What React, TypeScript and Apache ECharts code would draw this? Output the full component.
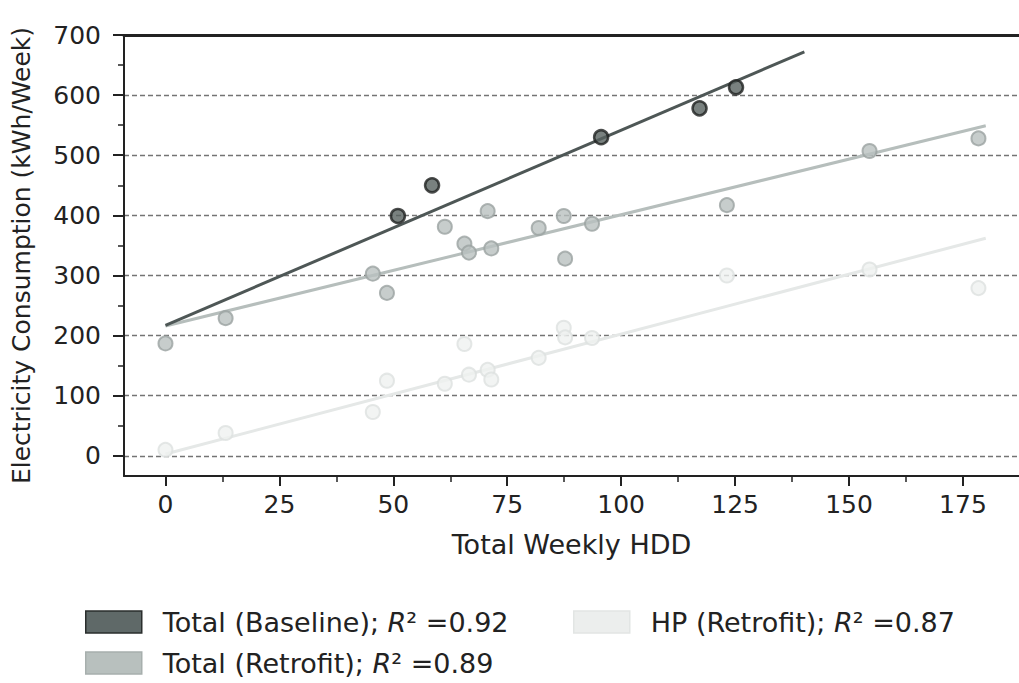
import React, { useEffect, useRef } from 'react';
import * as echarts from 'echarts';

const seriesNames = ['Total (Baseline)', 'Total (Retrofit)', 'HP (Retrofit)'];
const rSquared = ['0.92', '0.89', '0.87'];

const baselineHDD = [51.0, 58.5, 95.6, 117.2, 125.2];
const baselineKWh = [399, 450, 530, 578, 613];

const retrofitHDD = [0, 13.2, 45.5, 48.6, 61.3, 65.6, 66.6, 70.7, 71.5, 81.9, 87.4, 87.7, 93.6, 123.2, 154.5, 178.4];
const retrofitTotalKWh = [187, 229, 303, 271, 381, 353, 338, 407, 345, 379, 399, 328, 386, 417, 507, 528];
const retrofitHPKWh = [10, 38, 73, 125, 120, 186, 135, 143, 127, 163, 213, 197, 196, 300, 310, 279];

const baselineFitHDD = [0, 140.2];
const baselineFitKWh = [217, 672];
const retrofitFitHDD = [0, 180];
const retrofitFitKWh = [216, 549];
const hpFitHDD = [0, 180];
const hpFitKWh = [3, 362];

const xTicks = [0, 25, 50, 75, 100, 125, 150, 175];
const xMinorTicks = [12.5, 37.5, 62.5, 87.5, 112.5, 137.5, 162.5];
const yTicks = [0, 100, 200, 300, 400, 500, 600, 700];
const yMinorTicks = [50, 150, 250, 350, 450, 550, 650];

const X_MIN = -9.1;
const X_MAX = 187.3;
const Y_MIN = -33.5;
const Y_MAX = 700;

const FONT = 'DejaVu Sans';
const TEXT = '#222';
const FS = 25;
const LEGEND_FS = 27;

const zip = (xs: number[], ys: number[]) => xs.map((x, i) => [x, ys[i]]);

const markerStyles = [
  { color: '#58625f', borderColor: '#1f2221', borderWidth: 2.5 },
  { color: '#b9c1bf', borderColor: '#9ba3a1', borderWidth: 2 },
  { color: '#eff1f0', borderColor: '#dde1e0', borderWidth: 2 },
];
const lineColors = ['#4e5756', '#b6bebc', '#e5e8e7'];
const swatchStyles = [
  { color: '#5f6968', borderColor: '#2a2e2d', borderWidth: 1.5 },
  { color: '#b8c0be', borderColor: '#a7afad', borderWidth: 1.5 },
  { color: '#eceeed', borderColor: '#e2e5e4', borderWidth: 1.5 },
];

export default function App() {
  const ref = useRef<HTMLDivElement>(null);
  useEffect(() => {
    if (!ref.current) return;
    const chart = echarts.init(ref.current, undefined, { renderer: 'svg' });
    const legendText = {
      fontFamily: FONT,
      fontSize: LEGEND_FS,
      lineHeight: 30,
      color: TEXT,
      padding: [0, 0, 0, 16],
      rich: {
        i: { fontFamily: FONT, fontSize: LEGEND_FS, lineHeight: 30, fontStyle: 'italic', color: TEXT },
      },
    };
    const fmt = (name: string) => {
      const k = seriesNames.indexOf(name);
      return `${name}; {i|R}² =${rSquared[k]}`;
    };
    const legendData = (idx: number[]) =>
      idx.map((k) => ({ name: seriesNames[k], icon: 'rect', itemStyle: swatchStyles[k] }));

    const axisCommonX = { type: 'value', min: X_MIN, max: X_MAX, gridIndex: 0 };
    const axisCommonY = { type: 'value', min: Y_MIN, max: Y_MAX, gridIndex: 0 };
    const legendCommon = {
      orient: 'vertical',
      top: 607,
      padding: 0,
      itemWidth: 56,
      itemHeight: 22,
      itemGap: 11,
      formatter: fmt,
      textStyle: legendText,
      selectedMode: false,
    };

    const option: any = {
      animation: false,
      backgroundColor: '#ffffff',
      grid: { left: 124, right: 0, top: 35, bottom: 207, containLabel: false },
      legend: [
        { ...legendCommon, left: 85, data: legendData([0, 1]) },
        { ...legendCommon, left: 573, data: legendData([2]) },
      ],
      xAxis: [
        {
          ...axisCommonX,
          position: 'bottom',
          name: 'Total Weekly HDD',
          nameLocation: 'middle',
          nameGap: 55,
          nameTextStyle: { fontFamily: FONT, fontSize: 27, color: TEXT },
          axisLine: { show: true, onZero: false, lineStyle: { color: '#222', width: 2 } },
          axisTick: { show: true, customValues: xTicks, length: 10, lineStyle: { color: '#222', width: 2 } },
          axisLabel: { show: true, customValues: xTicks, margin: 16, fontFamily: FONT, fontSize: FS, color: TEXT },
          splitLine: { show: false },
        },
        {
          ...axisCommonX,
          position: 'bottom',
          axisLine: { show: false, onZero: false },
          axisTick: { show: true, customValues: xMinorTicks, length: 6, lineStyle: { color: '#222', width: 1.5 } },
          axisLabel: { show: false },
          splitLine: { show: false },
        },
        {
          ...axisCommonX,
          position: 'top',
          axisLine: { show: true, onZero: false, lineStyle: { color: '#222', width: 3 } },
          axisTick: { show: false },
          axisLabel: { show: false },
          splitLine: { show: false },
        },
      ],
      yAxis: [
        {
          ...axisCommonY,
          position: 'left',
          name: 'Electricity Consumption (kWh/Week)',
          nameLocation: 'middle',
          nameGap: 90,
          nameTextStyle: { fontFamily: FONT, fontSize: FS, color: TEXT },
          axisLine: { show: true, onZero: false, lineStyle: { color: '#222', width: 2 } },
          axisTick: { show: true, customValues: yTicks, length: 11, lineStyle: { color: '#222', width: 2 } },
          axisLabel: { show: true, customValues: yTicks, margin: 23, fontFamily: FONT, fontSize: FS, color: TEXT },
          splitLine: { show: true, lineStyle: { color: '#747474', width: 1.3, type: [5, 3] } },
        },
        {
          ...axisCommonY,
          position: 'left',
          axisLine: { show: false, onZero: false },
          axisTick: { show: true, customValues: yMinorTicks, length: 6, lineStyle: { color: '#222', width: 1.5 } },
          axisLabel: { show: false },
          splitLine: { show: false },
        },
      ],
      series: [
        {
          name: seriesNames[2],
          type: 'line',
          data: zip(hpFitHDD, hpFitKWh),
          showSymbol: false,
          lineStyle: { color: lineColors[2], width: 3 },
          z: 2,
        },
        {
          name: seriesNames[2],
          type: 'scatter',
          data: zip(retrofitHDD, retrofitHPKWh),
          symbolSize: 14,
          itemStyle: markerStyles[2],
          z: 3,
        },
        {
          name: seriesNames[1],
          type: 'line',
          data: zip(retrofitFitHDD, retrofitFitKWh),
          showSymbol: false,
          lineStyle: { color: lineColors[1], width: 3 },
          z: 4,
        },
        {
          name: seriesNames[1],
          type: 'scatter',
          data: zip(retrofitHDD, retrofitTotalKWh),
          symbolSize: 14,
          itemStyle: markerStyles[1],
          z: 5,
        },
        {
          name: seriesNames[0],
          type: 'line',
          data: zip(baselineFitHDD, baselineFitKWh),
          showSymbol: false,
          lineStyle: { color: lineColors[0], width: 3 },
          z: 6,
        },
        {
          name: seriesNames[0],
          type: 'scatter',
          data: zip(baselineHDD, baselineKWh),
          symbolSize: 14,
          itemStyle: markerStyles[0],
          z: 7,
        },
      ],
    };
    chart.setOption(option);
    return () => chart.dispose();
  }, []);
  return (
    <div
      ref={ref}
      style={{ position: 'fixed', left: 0, top: 0, width: 1019, height: 683, background: '#fff' }}
    />
  );
}
